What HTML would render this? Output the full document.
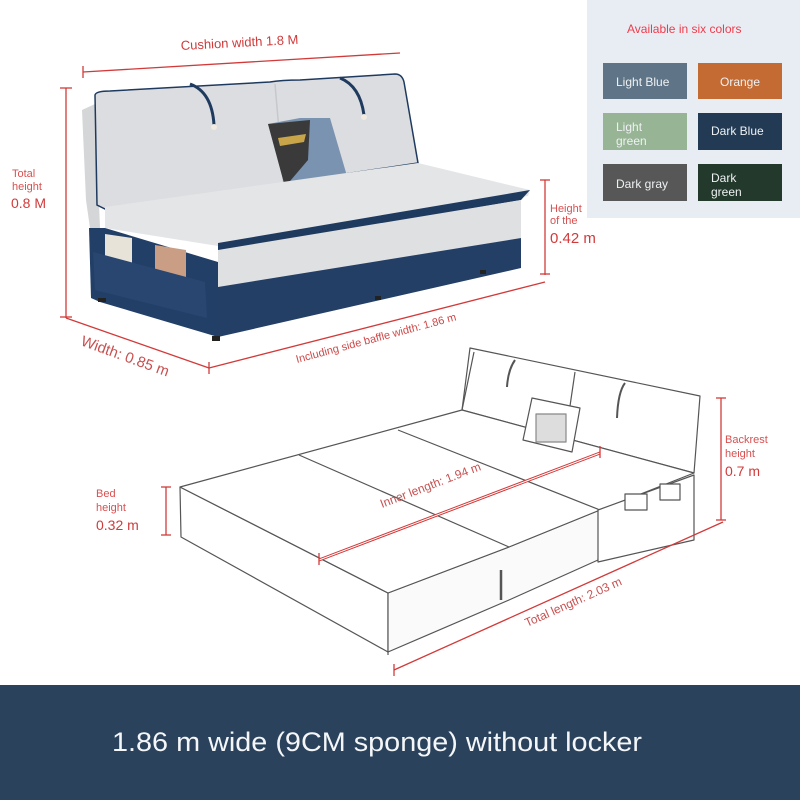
<!DOCTYPE html>
<html><head><meta charset="utf-8"><style>
html,body{margin:0;padding:0;background:#fff;}
svg{display:block;}
text{font-family:"Liberation Sans",sans-serif;}
</style></head><body>
<svg width="800" height="800" viewBox="0 0 800 800" xmlns="http://www.w3.org/2000/svg">
<rect width="800" height="800" fill="#fff"/>

<!-- ===== SOFA ===== -->
<!-- back frame -->
<polygon points="82,110 95,104 100,228 90,228 86,200" fill="#d4d6d8"/>
<!-- cushions -->
<path d="M95,95 Q96,91 110,91 L270,82 Q282,80 300,80 L395,74 Q402,74 404,82 L418,163 L107,210 L97,205 Z" fill="#dcdde0" stroke="#1f3a5f" stroke-width="1.5"/>
<line x1="275" y1="84" x2="285" y2="200" stroke="#c6c8cb" stroke-width="1.5"/>
<!-- piping straps -->
<path d="M190,84 Q212,92 214,125" fill="none" stroke="#1f3a5f" stroke-width="3"/>
<circle cx="214" cy="127" r="3" fill="#f1ebe0"/>
<path d="M340,78 Q360,86 364,115" fill="none" stroke="#1f3a5f" stroke-width="3"/>
<circle cx="364" cy="117" r="3" fill="#f1ebe0"/>
<!-- pillow -->
<polygon points="268,124 300,118 330,118 347,176 285,186" fill="#7a93b0"/>
<polygon points="268,124 310,120 308,160 285,187" fill="#3a3a3a"/>
<polygon points="278,138 306,134 304,142 280,146" fill="#c9a54a"/>
<!-- seat top -->
<polygon points="105,207 418,163 530,190 528,196 218,246 105,228" fill="#e4e5e7"/>
<polygon points="218,243 530,190 521,200 218,252" fill="#1f3a5f"/>
<!-- seat front face -->
<polygon points="218,250 521,200 521,238 218,288" fill="#dfe0e2"/>
<!-- blue base left -->
<polygon points="89,228 105,228 218,262 218,337 100,302 91,298" fill="#223f68"/>
<!-- blue base front -->
<polygon points="218,287 521,238 521,268 218,337" fill="#243f66"/>
<!-- pockets -->
<polygon points="105,234 132,238 132,275 105,270" fill="#e8e3d8"/>
<polygon points="155,245 186,250 186,280 155,276" fill="#c99e84"/>
<polygon points="93,252 205,282 207,318 95,290" fill="#284670"/>
<!-- feet -->
<rect x="98" y="298" width="8" height="4" fill="#222"/>
<rect x="212" y="336" width="8" height="5" fill="#222"/>
<rect x="375" y="296" width="6" height="4" fill="#222"/>
<rect x="480" y="270" width="6" height="4" fill="#222"/>

<!-- sofa dims -->
<g stroke="#d23a3a" stroke-width="1.3" fill="none">
<line x1="83" y1="72" x2="400" y2="53"/><line x1="83" y1="66" x2="83" y2="78"/>
<line x1="66" y1="88" x2="66" y2="318"/><line x1="60" y1="88" x2="72" y2="88"/><line x1="60" y1="317" x2="72" y2="317"/>
<line x1="66" y1="318" x2="209" y2="368"/><line x1="209" y1="362" x2="209" y2="374"/>
<line x1="209" y1="368" x2="545" y2="282"/>
<line x1="545" y1="180" x2="545" y2="275"/><line x1="540" y1="180" x2="550" y2="180"/><line x1="540" y1="274" x2="550" y2="274"/>
</g>
<g fill="#d23a3a">
<text x="181" y="50" font-size="13" transform="rotate(-3 181 50)">Cushion width 1.8 M</text>
<text x="12" y="177" font-size="11" fill="#d85050">Total</text>
<text x="12" y="190" font-size="11" fill="#d85050">height</text>
<text x="11" y="208" font-size="14">0.8 M</text>
<text x="80" y="345" font-size="15" transform="rotate(20 80 345)" fill="#c85050">Width: 0.85 m</text>
<text x="297" y="363" font-size="11" transform="rotate(-15 297 363)" fill="#d04848">Including side baffle width: 1.86 m</text>
<text x="550" y="212" font-size="11" fill="#d85050">Height</text>
<text x="550" y="224" font-size="11" fill="#d85050">of the</text>
<text x="550" y="243" font-size="15">0.42 m</text>
</g>

<!-- ===== COLOR PANEL ===== -->
<rect x="587" y="0" width="213" height="218" fill="#e8edf3"/>
<text x="627" y="33" font-size="12" fill="#ef3b4b">Available in six colors</text>
<rect x="603" y="63" width="84" height="36" fill="#5f7587"/>
<rect x="698" y="63" width="84" height="36" fill="#c46a33"/>
<rect x="603" y="113" width="84" height="37" fill="#97b495"/>
<rect x="698" y="113" width="84" height="37" fill="#223a53"/>
<rect x="603" y="164" width="84" height="37" fill="#575757"/>
<rect x="698" y="164" width="84" height="37" fill="#23392b"/>
<g font-size="12" fill="#eef1f3">
<text x="616" y="86">Light Blue</text>
<text x="720" y="86">Orange</text>
<text x="616" y="131">Light</text><text x="616" y="145">green</text>
<text x="711" y="135">Dark Blue</text>
<text x="616" y="188">Dark gray</text>
<text x="711" y="182">Dark</text><text x="711" y="196">green</text>
</g>

<!-- ===== BED (line drawing) ===== -->
<g stroke="#555" stroke-width="1.2" fill="#fff" stroke-linejoin="round">
<!-- backrest -->
<polygon points="470,348 700,396 694,473 462,410"/>
<path d="M474,352 L462,410" fill="none"/>
<line x1="575" y1="372" x2="565" y2="440"/>
<path d="M515,360 Q508,370 507,387" fill="none" stroke-width="2"/>
<path d="M625,383 Q618,392 617,418" fill="none" stroke-width="2"/>
<!-- mattress front/left faces -->
<polygon points="180,487 388,593 388,652 181,537"/>
<polygon points="388,593 509,547 600,510 598,560 509,600 388,652" fill="#fafafa"/>
<!-- mattress top -->
<polygon points="180,487 462,410 694,473 600,510 509,547 388,593"/>
<line x1="299" y1="455" x2="509" y2="547"/>
<line x1="398" y1="430" x2="600" y2="510"/>
<!-- pillow -->
<polygon points="532,398 580,408 572,452 523,440" fill="#fff"/>
<rect x="536" y="414" width="30" height="28" fill="#ddd" stroke="#888"/>
<!-- side pocket -->
<polygon points="598,510 694,475 694,540 598,562"/>
<rect x="625" y="494" width="22" height="16" fill="#fff"/>
<rect x="660" y="484" width="20" height="16" fill="#fff"/>
<!-- legs -->
<line x1="501" y1="570" x2="501" y2="600" stroke-width="2.5"/>
<line x1="388" y1="652" x2="388" y2="655"/>
</g>

<!-- bed dims -->
<g stroke="#d23a3a" stroke-width="1.3" fill="none">
<line x1="166" y1="487" x2="166" y2="535"/><line x1="161" y1="487" x2="171" y2="487"/><line x1="161" y1="535" x2="171" y2="535"/>
<line x1="319" y1="560" x2="600" y2="453" stroke-width="3"/>
<line x1="319" y1="560" x2="600" y2="453" stroke="#fff" stroke-width="1"/>
<line x1="319" y1="553" x2="319" y2="565"/><line x1="600" y1="446" x2="600" y2="458"/>
<line x1="394" y1="670" x2="723" y2="522"/><line x1="394" y1="664" x2="394" y2="676"/>
<line x1="721" y1="398" x2="721" y2="520"/><line x1="716" y1="398" x2="726" y2="398"/><line x1="716" y1="520" x2="726" y2="520"/>
</g>
<g fill="#d23a3a">
<text x="96" y="497" font-size="11" fill="#d85050">Bed</text>
<text x="96" y="511" font-size="11" fill="#d85050">height</text>
<text x="96" y="530" font-size="14">0.32 m</text>
<text x="382" y="508" font-size="12" transform="rotate(-21 382 508)" fill="#c85050">Inner length: 1.94 m</text>
<text x="527" y="627" font-size="12" transform="rotate(-24 527 627)" fill="#c85050">Total length: 2.03 m</text>
<text x="725" y="443" font-size="11" fill="#d85050">Backrest</text>
<text x="725" y="457" font-size="11" fill="#d85050">height</text>
<text x="725" y="476" font-size="14">0.7 m</text>
</g>

<!-- ===== BANNER ===== -->
<rect x="0" y="685" width="800" height="115" fill="#2a425c"/>
<text x="112" y="751" font-size="27" fill="#f4f6f8" textLength="530" lengthAdjust="spacingAndGlyphs">1.86 m wide (9CM sponge) without locker</text>
</svg>
</body></html>
